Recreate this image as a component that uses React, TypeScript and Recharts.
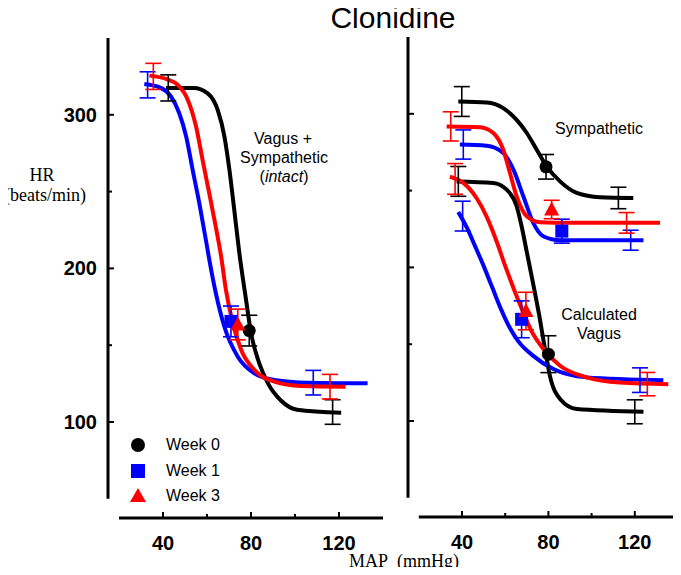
import React from "react";
import {
  ComposedChart,
  ErrorBar,
  Line,
  ReferenceLine,
  Scatter,
  XAxis,
  YAxis,
} from "recharts";

// ---- data (x = MAP mmHg, y = HR beats/min, e = SEM) ----

// left panel: vagus + sympathetic (intact)
const intactW0Curve = [
  { x: 41.4, y: 317.5 }, { x: 54, y: 317.5 }, { x: 60.3, y: 314 }, { x: 64.9, y: 303 },
  { x: 67.9, y: 286 }, { x: 70.2, y: 264 }, { x: 72.4, y: 238 }, { x: 74.7, y: 210 },
  { x: 77.7, y: 180 }, { x: 80, y: 158 }, { x: 83.8, y: 138 }, { x: 87.6, y: 125.5 },
  { x: 93.6, y: 114 }, { x: 101, y: 108 }, { x: 121, y: 106 },
];
const intactW1Curve = [
  { x: 31.5, y: 320 }, { x: 39, y: 317.5 }, { x: 43.6, y: 312 }, { x: 47.4, y: 301 },
  { x: 50.5, y: 286 }, { x: 53.5, y: 264 }, { x: 56.5, y: 242.5 }, { x: 59.5, y: 218.5 },
  { x: 61, y: 206 }, { x: 64, y: 184 }, { x: 67.9, y: 162 }, { x: 74, y: 142.5 },
  { x: 81.5, y: 131.7 }, { x: 90.6, y: 127.4 }, { x: 105.8, y: 125.6 }, { x: 133, y: 125.2 },
];
const intactW3Curve = [
  { x: 33.8, y: 325.5 }, { x: 42, y: 323 }, { x: 46.7, y: 319.5 }, { x: 51.2, y: 310 },
  { x: 55, y: 292.5 }, { x: 58, y: 270.5 }, { x: 61, y: 249 }, { x: 64, y: 227 },
  { x: 66.4, y: 208 }, { x: 68.6, y: 186 }, { x: 71.7, y: 164.5 }, { x: 75.5, y: 147 },
  { x: 81.5, y: 134 }, { x: 90.6, y: 126.3 }, { x: 102.7, y: 123.5 }, { x: 123, y: 123 },
];
const intactW0Pts = [{ x: 42.4, y: 317.5, e: 8.5 }, { x: 79.2, y: 159.5, e: 10 }, { x: 117.1, y: 106.5, e: 8 }];
const intactW1Pts = [{ x: 33, y: 319.5, e: 8.5 }, { x: 70.9, y: 165.5, e: 10 }, { x: 108.3, y: 125.6, e: 8 }];
const intactW3Pts = [{ x: 35.6, y: 325, e: 8.5 }, { x: 74, y: 163.5, e: 10 }, { x: 115.9, y: 123, e: 8 }];
const intactW0Mark = [{ x: 79.2, y: 159.5 }];
const intactW1Mark = [{ x: 70.9, y: 165.5 }];
const intactW3Mark = [{ x: 74, y: 163.5 }];

// right panel: sympathetic
const sympW0Curve = [
  { x: 38.3, y: 308 }, { x: 51.4, y: 307.4 }, { x: 59.1, y: 303.7 }, { x: 65.3, y: 296 },
  { x: 70, y: 287.5 }, { x: 74.6, y: 276.6 }, { x: 79.2, y: 265.8 }, { x: 85.4, y: 256 },
  { x: 93.1, y: 248.5 }, { x: 103.9, y: 245.7 }, { x: 119.3, y: 245.2 },
];
const sympW1Curve = [
  { x: 39, y: 280 }, { x: 51.4, y: 279.2 }, { x: 59.1, y: 274.5 }, { x: 63.8, y: 263.6 },
  { x: 68.4, y: 246.3 }, { x: 73, y: 229 }, { x: 77.6, y: 220.3 }, { x: 85.4, y: 217.7 },
  { x: 124, y: 217.7 },
];
const sympW3Curve = [
  { x: 32.9, y: 291.8 }, { x: 48.3, y: 291.3 }, { x: 54.5, y: 287.5 }, { x: 59.1, y: 276.6 },
  { x: 62.2, y: 261.5 }, { x: 65.3, y: 246.3 }, { x: 70, y: 233.3 }, { x: 76.1, y: 229.4 },
  { x: 90, y: 229 }, { x: 131.7, y: 229 },
];
const sympW0Pts = [{ x: 39.9, y: 308, e: 9.7 }, { x: 78.9, y: 265.5, e: 8 }, { x: 112.4, y: 245.2, e: 7 }];
const sympW1Pts = [{ x: 40.6, y: 280, e: 9.5 }, { x: 86.2, y: 223.6, e: 7.8 }, { x: 118.1, y: 217.7, e: 6.5 }];
const sympW3Pts = [{ x: 34.8, y: 291.8, e: 9.5 }, { x: 81.5, y: 237.7, e: 6 }, { x: 116.2, y: 229, e: 6.7 }];
const sympW0Mark = [{ x: 78.9, y: 265.5 }];
const sympW1Mark = [{ x: 86.2, y: 223.6 }];
const sympW3Mark = [{ x: 81.5, y: 237.7 }];

// right panel: calculated vagus
const vagusW0Curve = [
  { x: 37.5, y: 256 }, { x: 54.5, y: 255 }, { x: 60.7, y: 250.6 }, { x: 65.3, y: 239.8 },
  { x: 67.6, y: 226.8 }, { x: 70, y: 210 }, { x: 73, y: 189 }, { x: 75.8, y: 168.4 },
  { x: 78.4, y: 146.8 }, { x: 80.7, y: 129.4 }, { x: 85.4, y: 114.3 }, { x: 93.1, y: 107.8 },
  { x: 124, y: 106 },
];
const vagusW1Curve = [
  { x: 38.3, y: 236 }, { x: 42.2, y: 226 }, { x: 46, y: 214 }, { x: 50, y: 201 },
  { x: 54, y: 187 }, { x: 58, y: 173 }, { x: 62, y: 161 }, { x: 66, y: 152 },
  { x: 73, y: 142.4 }, { x: 82.3, y: 133.8 }, { x: 97.7, y: 128.4 }, { x: 133.2, y: 126.6 },
];
const vagusW3Curve = [
  { x: 34.4, y: 259 }, { x: 40.6, y: 255 }, { x: 46.8, y: 245 }, { x: 51.4, y: 233 },
  { x: 56, y: 217 }, { x: 60, y: 201 }, { x: 64, y: 186 }, { x: 68, y: 172 },
  { x: 72, y: 159 }, { x: 77.6, y: 147 }, { x: 85.4, y: 136 }, { x: 97.7, y: 128.4 },
  { x: 113.1, y: 125 }, { x: 135.5, y: 124 },
];
const vagusW0Pts = [{ x: 38.3, y: 256, e: 9.7 }, { x: 80, y: 143.5, e: 12 }, { x: 120, y: 106, e: 7.8 }];
const vagusW1Pts = [{ x: 40.3, y: 233.4, e: 9.7 }, { x: 67.6, y: 166.2, e: 12 }, { x: 122.4, y: 126.6, e: 8 }];
const vagusW3Pts = [{ x: 36.8, y: 257.6, e: 10 }, { x: 69.6, y: 171.6, e: 12.2 }, { x: 125.8, y: 124, e: 7.6 }];
const vagusW0Mark = [{ x: 80, y: 143.5 }];
const vagusW1Mark = [{ x: 67.6, y: 166.2 }];
const vagusW3Mark = [{ x: 69.6, y: 171.6 }];

const xTicks = [40, 60, 80, 100, 120];
const xLabels = [40, 80, 120];
const yTicks = [100, 150, 200, 250, 300];
const yLabels = [100, 200, 300];
const legendNames = ["Week 0", "Week 1", "Week 3"];

const BLACK = "#000000";
const BLUE = "#0000ff";
const RED = "#ff0000";
const SANS = "Arial, 'Liberation Sans', sans-serif";
const SERIF = "'Times New Roman', 'Liberation Serif', serif";

const circle = (p: any) => <circle cx={p.cx} cy={p.cy} r={6.5} fill={BLACK} />;
const square = (p: any) => <rect x={p.cx - 6.5} y={p.cy - 6.5} width={13} height={13} fill={BLUE} />;
const triangle = (p: any) => (
  <polygon points={`${p.cx},${p.cy - 8} ${p.cx - 7.5},${p.cy + 6} ${p.cx + 7.5},${p.cy + 6}`} fill={RED} />
);
const nothing = () => <g />;

function YTick(props: any, showLabels: boolean) {
  const { x, y, payload } = props;
  const major = yLabels.includes(payload.value);
  return (
    <g>
      <line x1={x} x2={x + (major ? 6 : 4)} y1={y} y2={y} stroke={BLACK} strokeWidth={2} />
      {showLabels && major && (
        <text x={x - 11} y={y} dy={7} textAnchor="end" fontFamily={SANS} fontWeight="bold" fontSize={20} fill={BLACK}>
          {payload.value}
        </text>
      )}
    </g>
  );
}

function XTick(props: any) {
  const { x, y, payload } = props;
  const major = xLabels.includes(payload.value);
  return (
    <g>
      <line x1={x} x2={x} y1={y} y2={y - (major ? 6 : 4)} stroke={BLACK} strokeWidth={2} />
      {major && (
        <text x={x} y={y + 32} textAnchor="middle" fontFamily={SANS} fontWeight="bold" fontSize={20} fill={BLACK}>
          {payload.value}
        </text>
      )}
    </g>
  );
}

type Group = { curve: any[]; pts: any[]; mark: any[]; color: string; shape: any };

// plot area: 480px tall, yaxis 48px wide, plot width given per panel
function Panel({ groups, plotWidth, rightPad, showLabels }: { groups: Group[]; plotWidth: number; rightPad: number; showLabels: boolean }) {
  return (
    <ComposedChart width={48 + plotWidth + rightPad} height={550} margin={{ top: 8, right: rightPad, left: 0, bottom: 30 }}>
      <XAxis
        dataKey="x"
        type="number"
        domain={[15, 140]}
        ticks={xTicks}
        axisLine={false}
        tickLine={false}
        tickSize={0}
        tickMargin={0}
        height={32}
        tick={(p: any) => XTick(p)}
        interval={0}
      />
      <YAxis
        type="number"
        domain={[37.5, 350]}
        ticks={yTicks}
        axisLine={false}
        tickLine={false}
        tickSize={0}
        tickMargin={0}
        width={48}
        tick={(p: any) => YTick(p, showLabels)}
        interval={0}
      />
      <ReferenceLine segment={[{ x: 15, y: 50 }, { x: 15, y: 350 }]} stroke={BLACK} strokeWidth={3} ifOverflow="visible" />
      <ReferenceLine segment={[{ x: 20, y: 37.5 }, { x: 140, y: 37.5 }]} stroke={BLACK} strokeWidth={3} ifOverflow="visible" />
      {groups.map((g, i) => (
        <Line
          key={"l" + i}
          data={g.curve}
          dataKey="y"
          type="monotone"
          stroke={g.color}
          strokeWidth={4}
          dot={false}
          activeDot={false}
          isAnimationActive={false}
        />
      ))}
      {groups.map((g, i) => (
        <Scatter key={"e" + i} data={g.pts} dataKey="y" shape={nothing} isAnimationActive={false}>
          <ErrorBar dataKey="e" direction="y" width={8} stroke={g.color} strokeWidth={1.6} isAnimationActive={false} />
        </Scatter>
      ))}
      {groups.map((g, i) => (
        <Scatter key={"m" + i} data={g.mark} dataKey="y" shape={g.shape} isAnimationActive={false} />
      ))}
    </ComposedChart>
  );
}

const Txt = ({ x, y, size = 16, font = SANS, children }: any) => (
  <div
    style={{
      position: "absolute",
      left: x,
      top: y,
      transform: "translate(-50%, -50%)",
      whiteSpace: "nowrap",
      fontFamily: font,
      fontSize: size,
      lineHeight: 1,
      color: BLACK,
    }}
  >
    {children}
  </div>
);

export default function App() {
  const leftGroups: Group[] = [
    { curve: intactW0Curve, pts: intactW0Pts, mark: intactW0Mark, color: BLACK, shape: circle },
    { curve: intactW1Curve, pts: intactW1Pts, mark: intactW1Mark, color: BLUE, shape: square },
    { curve: intactW3Curve, pts: intactW3Pts, mark: intactW3Mark, color: RED, shape: triangle },
  ];
  const rightGroups: Group[] = [
    { curve: sympW0Curve, pts: sympW0Pts, mark: sympW0Mark, color: BLACK, shape: circle },
    { curve: sympW1Curve, pts: sympW1Pts, mark: sympW1Mark, color: BLUE, shape: square },
    { curve: sympW3Curve, pts: sympW3Pts, mark: sympW3Mark, color: RED, shape: triangle },
    { curve: vagusW0Curve, pts: vagusW0Pts, mark: vagusW0Mark, color: BLACK, shape: circle },
    { curve: vagusW1Curve, pts: vagusW1Pts, mark: vagusW1Mark, color: BLUE, shape: square },
    { curve: vagusW3Curve, pts: vagusW3Pts, mark: vagusW3Mark, color: RED, shape: triangle },
  ];
  const legendIcons = [
    <circle cx={8} cy={8} r={7} fill={BLACK} />,
    <rect x={1} y={1} width={14} height={14} fill={BLUE} />,
    <polygon points="8,0 0,14 16,14" fill={RED} />,
  ];
  const legendY = [445, 471, 496];

  // wrapper sits at page (0,0): -8 cancels the body margin
  return (
    <div style={{ position: "relative", margin: -8, width: 681, height: 575, overflow: "hidden", background: "#fff" }}>
      <div style={{ position: "absolute", left: 60, top: 30 }}>
        <Panel groups={leftGroups} plotWidth={275} rightPad={10} showLabels={true} />
      </div>
      <div style={{ position: "absolute", left: 360, top: 29 }}>
        <Panel groups={rightGroups} plotWidth={270} rightPad={3} showLabels={false} />
      </div>

      <Txt x={393} y={18} size={30}>Clonidine</Txt>
      <Txt x={42} y={175} size={18} font={SERIF}>HR</Txt>
      <Txt x={45} y={195} size={18} font={SERIF}>(beats/min)</Txt>
      <Txt x={404} y={561} size={18} font={SERIF}>MAP&nbsp;&nbsp;(mmHg)</Txt>

      <Txt x={283} y={139}>Vagus +</Txt>
      <Txt x={284} y={158}>Sympathetic</Txt>
      <Txt x={284} y={177}>(<i>intact</i>)</Txt>
      <Txt x={599} y={129}>Sympathetic</Txt>
      <Txt x={599} y={315}>Calculated</Txt>
      <Txt x={599} y={334}>Vagus</Txt>

      {legendNames.map((name, i) => (
        <div
          key={name}
          style={{
            position: "absolute",
            left: 130,
            top: legendY[i] - 8,
            height: 16,
            display: "flex",
            alignItems: "center",
            fontFamily: SANS,
            fontSize: 16,
          }}
        >
          <svg width={16} height={16}>{legendIcons[i]}</svg>
          <span style={{ marginLeft: 20 }}>{name}</span>
        </div>
      ))}
    </div>
  );
}
